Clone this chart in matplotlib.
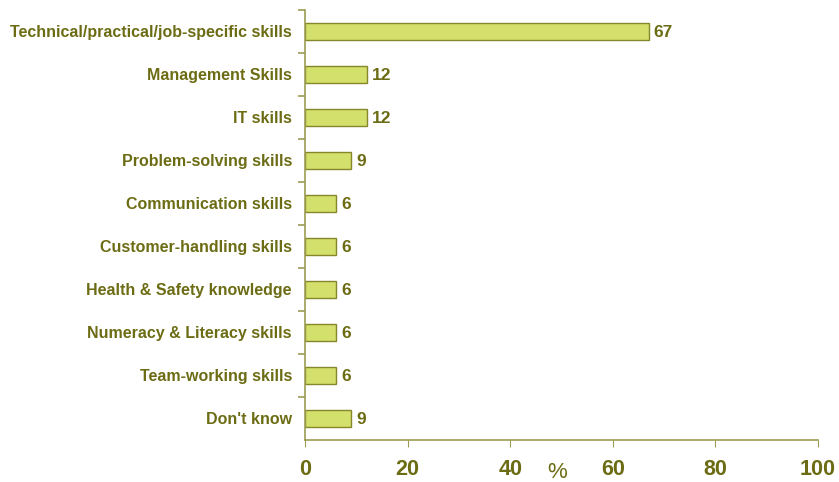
import matplotlib.pyplot as plt

plt.rcParams['font.family'] = ['Liberation Sans', 'DejaVu Sans']

# Skills lacking, share of respondents (%)
skills = ['Technical/practical/job-specific skills', 'Management Skills', 'IT skills',
          'Problem-solving skills', 'Communication skills', 'Customer-handling skills',
          'Health & Safety knowledge', 'Numeracy & Literacy skills', 'Team-working skills',
          "Don't know"]
percent = [67, 12, 12, 9, 6, 6, 6, 6, 6, 9]
xticks = [0, 20, 40, 60, 80, 100]

text_col = '#6c6c14'
axis_col = '#9c9c55'

fig = plt.figure(figsize=(8.39, 4.82), dpi=100)
ax = fig.add_axes([0.3635, 0.0871, 0.6115, 0.893])

pos = list(range(len(skills)))
ax.barh(pos, percent, height=0.4, color='#d4e06c', edgecolor='#86862a', linewidth=1)
for p, v in zip(pos, percent):
    ax.text(v + 1, p + 0.03, str(v), va='center', ha='left', fontsize=12.5,
            fontweight='bold', color=text_col)

ax.set_xlim(0, 100)
ax.set_ylim(len(skills) - 0.5, -0.5)
ax.set_xticks(xticks)
ax.set_xticklabels([str(t) for t in xticks], fontsize=15.5, fontweight='bold', color=text_col)
ax.set_yticks(pos)
ax.set_yticklabels(skills, fontsize=11.5, fontweight='bold', color=text_col)
ax.tick_params(axis='y', length=0, pad=9.4)
ax.tick_params(axis='x', length=5, color=axis_col, pad=8.5)

# minor ticks between categories on the y axis
ax.set_yticks([p + 0.5 for p in pos[:-1]] + [-0.5], minor=True)
ax.tick_params(axis='y', which='minor', length=5, width=1.2, color=axis_col)

for side in ['top', 'right']:
    ax.spines[side].set_visible(False)
for side in ['left', 'bottom']:
    ax.spines[side].set_color(axis_col)
    ax.spines[side].set_linewidth(1.2)

fig.text(557 / 839, 1 - 472 / 482, '%', fontsize=16, color=text_col, ha='center', va='center')

fig.savefig('out.png', dpi=100)
